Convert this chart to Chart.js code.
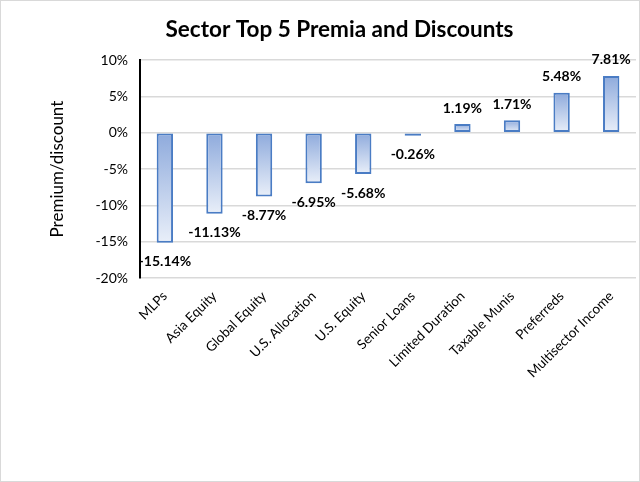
<!DOCTYPE html>
<html>
<head>
<meta charset="utf-8">
<script src="https://cdn.jsdelivr.net/npm/chart.js@4"></script>
<style>
	html, body { margin: 0; padding: 0; background: #fff; }
	#wrap { position: absolute; left: 0; top: 0; width: 638px; height: 480px; border: 1px solid #d9d9d9; }
</style>
</head>
<body>
<div id="wrap"><canvas id="chart" width="638" height="480"></canvas></div>
<script>
const categories = ['MLPs', 'Asia Equity', 'Global Equity', 'U.S. Allocation', 'U.S. Equity',
	'Senior Loans', 'Limited Duration', 'Taxable Munis', 'Preferreds', 'Multisector Income'];
const premiumValues = [-15.14, -11.13, -8.77, -6.95, -5.68, -0.26, 1.19, 1.71, 5.48, 7.81];
const yTicks = [-20, -15, -10, -5, 0, 5, 10];

const fontFamily = 'Lato, "Open Sans", sans-serif';

//Vertical gradient on each bar, darker at the top
function barGradient(context) {
	const chart = context.chart;
	const yScale = chart.scales.y;
	if (!chart.chartArea || !yScale || context.dataIndex === undefined) {
		return '#b4c7e7';
	}
	const value = premiumValues[context.dataIndex];
	const end = yScale.getPixelForValue(value);
	const base = yScale.getPixelForValue(0);
	const top = Math.min(end, base);
	const bottom = Math.max(end, base);
	//Very short bars show as a plain border-coloured strip
	if (!isFinite(top) || bottom - top < 4) {
		return '#4a7cc4';
	}
	const gradient = chart.ctx.createLinearGradient(0, top, 0, bottom);
	gradient.addColorStop(0, '#8eaadc');
	gradient.addColorStop(1, '#e9eff9');
	return gradient;
}

const valueLabels = {
	id: 'valueLabels',
	afterDatasetsDraw(chart) {
		const ctx = chart.ctx;
		const meta = chart.getDatasetMeta(0);
		ctx.save();
		ctx.font = 'bold 14px ' + fontFamily;
		ctx.fillStyle = '#000';
		ctx.textAlign = 'center';
		ctx.textBaseline = 'middle';
		meta.data.forEach(function(bar, i) {
			const value = premiumValues[i];
			const y = value < 0 ? bar.y + 19 : bar.y - 16;
			ctx.fillText(value.toFixed(2) + '%', bar.x, y);
		});
		ctx.restore();
	}
};

new Chart(document.getElementById('chart'), {
	type: 'bar',
	data: {
		labels: categories,
		datasets: [{
			data: premiumValues,
			backgroundColor: barGradient,
			borderColor: '#4a7cc4',
			borderWidth: 2,
			borderSkipped: false,
			minBarLength: 3,
			categoryPercentage: 1,
			barPercentage: 0.33
		}]
	},
	options: {
		responsive: false,
		animation: false,
		layout: {
			padding: {left: 42, right: 3, top: 4, bottom: 98}
		},
		plugins: {
			legend: {display: false},
			tooltip: {enabled: false},
			title: {
				display: true,
				text: 'Sector Top 5 Premia and Discounts',
				color: '#000',
				font: {family: fontFamily, size: 22.5, weight: 'bold'},
				padding: {top: 11, bottom: 17}
			}
		},
		scales: {
			x: {
				grid: {display: false},
				border: {display: false},
				ticks: {
					color: '#000',
					font: {family: fontFamily, size: 13.5},
					minRotation: 45,
					maxRotation: 45,
					padding: 2
				}
			},
			y: {
				min: -20,
				max: 10,
				afterBuildTicks(axis) {
					axis.ticks = yTicks.map(function(v) { return {value: v}; });
				},
				grid: {color: '#d9d9d9', lineWidth: 1.5, drawTicks: false},
				border: {display: true, color: '#000', width: 2},
				ticks: {
					color: '#000',
					font: {family: fontFamily, size: 14},
					padding: 12,
					callback: function(v) { return v + '%'; }
				},
				title: {
					display: true,
					text: 'Premium/discount',
					color: '#000',
					font: {family: fontFamily, size: 17},
					padding: {bottom: 16}
				}
			}
		}
	},
	plugins: [valueLabels]
});
</script>
</body>
</html>
